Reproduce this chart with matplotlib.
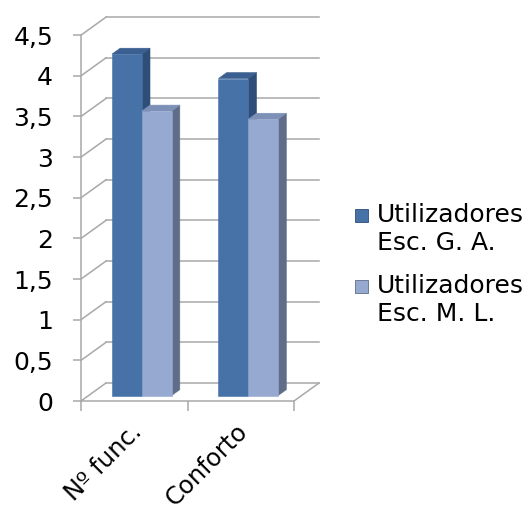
import matplotlib.pyplot as plt
from matplotlib.patches import Polygon, Rectangle
from matplotlib.transforms import ScaledTranslation

categories = ["Nº func.", "Conforto"]
series_names = ["Utilizadores\nEsc. G. A.", "Utilizadores\nEsc. M. L."]
ga_values = [4.2, 3.9]
ml_values = [3.5, 3.4]
y_ticks = [0, 0.5, 1, 1.5, 2, 2.5, 3, 3.5, 4, 4.5]
y_tick_labels = ["0", "0,5", "1", "1,5", "2", "2,5", "3", "3,5", "4", "4,5"]

# face colours: front, side, top
dark = ("#4672a8", "#2e4d77", "#3b5f90")
light = ("#96a9d1", "#5f6d88", "#7d90b8")
grid_color = "#a8a8a8"

W, H = 531, 511
plt.rcParams['font.family'] = ['DejaVu Sans']

fig = plt.figure(figsize=(W / 100, H / 100), dpi=100)

# front plane origin and scale in pixels
x0_px, y0_px = 81, 401
cat_px, unit_px = 106.5, 81.3
left_px, right_px, top_px = 81, 330, 10
ax = fig.add_axes([left_px / W, (H - y0_px) / H,
                   (right_px - left_px) / W, (y0_px - top_px) / H])
ax.set_xlim(0, (right_px - x0_px) / cat_px)
ax.set_ylim(0, (y0_px - top_px) / unit_px)
ax.patch.set_alpha(0)

# depth of the wall, in data units
DX = 25 / cat_px
DY = 18 / unit_px
ymax = y_ticks[-1]
ncat = len(categories)

# back wall gridlines and left wall slants
for v in y_ticks:
    ax.plot([DX, ncat + DX], [v + DY, v + DY], color=grid_color, lw=1.1, zorder=1)
    ax.plot([0, DX], [v, v + DY], color=grid_color, lw=1.1, zorder=1)
# right edge of the floor
ax.plot([ncat, ncat + DX], [0, DY], color=grid_color, lw=1.1, zorder=1)


def bar3d(x, w, v, colors, f=0.3, d=0.33):
    front, side, top = colors
    bx, by = x + f * DX, f * DY
    ddx, ddy = d * DX, d * DY
    ax.add_patch(Polygon([(bx + w, by), (bx + w + ddx, by + ddy),
                          (bx + w + ddx, v + by + ddy), (bx + w, v + by)],
                         closed=True, facecolor=side, edgecolor=side, lw=0.4, zorder=3))
    ax.add_patch(Polygon([(bx, v + by), (bx + w, v + by),
                          (bx + w + ddx, v + by + ddy), (bx + ddx, v + by + ddy)],
                         closed=True, facecolor=top, edgecolor=top, lw=0.4, zorder=3))
    ax.add_patch(Rectangle((bx, by), w, v, facecolor=front, edgecolor=front,
                           lw=0.4, zorder=3))


bw = 0.28
for i in range(ncat):
    bar3d(i + 0.5 - bw, bw, ga_values[i], dark)
    bar3d(i + 0.5, bw, ml_values[i], light)

for s in ["top", "right"]:
    ax.spines[s].set_visible(False)
ax.spines["left"].set_bounds(0, ymax)
ax.spines["bottom"].set_bounds(0, ncat)
for s in ["left", "bottom"]:
    ax.spines[s].set_color(grid_color)
    ax.spines[s].set_linewidth(1.1)

ax.set_yticks(y_ticks, y_tick_labels)
ax.tick_params(axis="y", direction="out", length=6, width=1.1, color=grid_color,
               labelsize=18, pad=14)
ax.set_xticks(range(ncat + 1), [""] * (ncat + 1))
ax.tick_params(axis="x", which="major", direction="out", length=7, width=1.1,
               color=grid_color)
ax.set_xticks([i + 0.5 for i in range(ncat)], categories, minor=True)
ax.tick_params(axis="x", which="minor", length=0, labelsize=17.5, pad=13)
shift = ScaledTranslation(-5 / 100, 0, fig.dpi_scale_trans)
for lab in ax.get_xticklabels(minor=True):
    lab.set_rotation(45)
    lab.set_ha("right")
    lab.set_va("top")
    lab.set_rotation_mode("anchor")
    lab.set_transform(lab.get_transform() + shift)


def fig_xy(x, y):
    return x / W, 1 - y / H


# legend
for k, (name, cols) in enumerate(zip(series_names, [dark, light])):
    sq_top = 209 + 71 * k
    sx, sy = fig_xy(355, sq_top + 13)
    fig.add_artist(Rectangle((sx, sy), 13 / W, 13 / H, transform=fig.transFigure,
                             facecolor=cols[0], edgecolor=cols[1], lw=0.6))
    tx, ty = fig_xy(377, sq_top - 6)
    fig.text(tx, ty, name, fontsize=18, va="top", ha="left", linespacing=1.2)

fig.savefig("out.png", dpi=100)
